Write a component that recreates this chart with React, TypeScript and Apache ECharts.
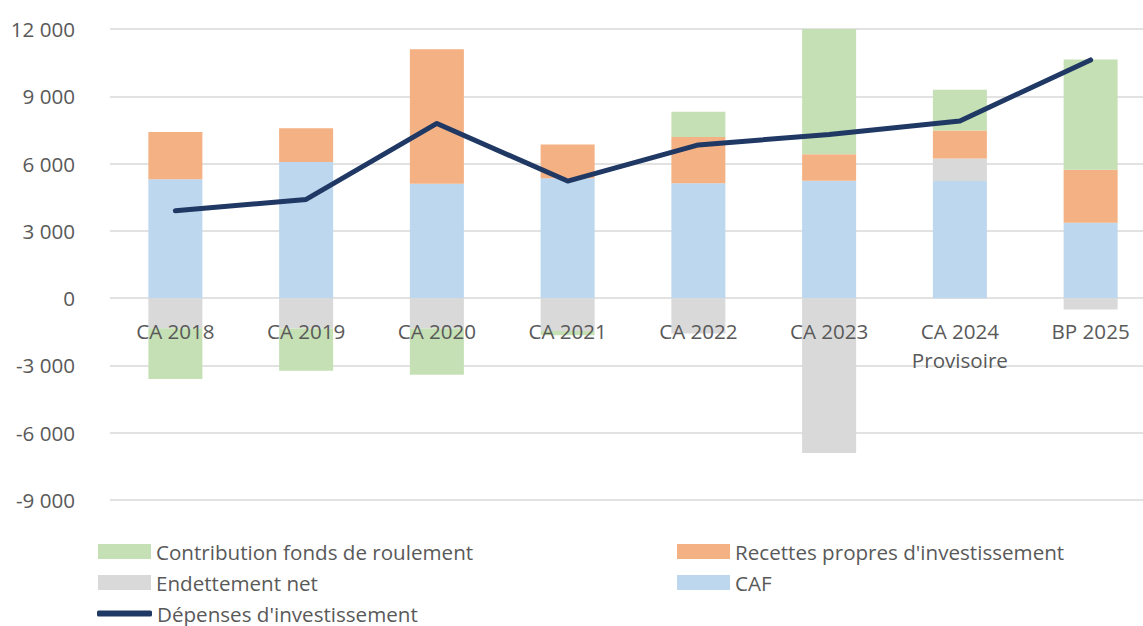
import React, { useEffect, useRef } from "react";
import * as echarts from "echarts";

const categories = ["CA 2018", "CA 2019", "CA 2020", "CA 2021", "CA 2022", "CA 2023", "CA 2024\nProvisoire", "BP 2025"];
const caf = [5300, 6070, 5100, 5340, 5120, 5230, 5220, 3360];
const endettementNet = [-1340, -1350, -1350, -1470, -1580, -6900, 1010, -510];
const recettesPropres = [2110, 1510, 6000, 1515, 2065, 1190, 1240, 2360];
const contributionFdr = [-2260, -1890, -2070, -180, 1130, 7780, 1820, 4920];
const depenses = [3900, 4400, 7790, 5220, 6830, 7300, 7900, 10620];

const yTicks = { min: -9000, max: 12000, interval: 3000 };

const FONT = "Open Sans";
const TXT = "#595959";
const FS = 20.6;

const fmt = (v: number) => {
  const s = Math.abs(v).toString().replace(/\B(?=(\d{3})+(?!\d))/g, " ");
  return (v < 0 ? "-" : "") + s;
};

export default function App() {
  const ref = useRef<HTMLDivElement>(null);
  useEffect(() => {
    if (!ref.current) return;
    const chart = echarts.init(ref.current, undefined, { renderer: "svg" });
    const barLegend = (name: string, left: number, top: number) => ({
      data: [name],
      left,
      top,
      padding: 0,
      icon: "rect",
      itemWidth: 53,
      itemHeight: 15,
      textStyle: { fontFamily: FONT, fontSize: FS, color: TXT },
    });
    chart.setOption({
      animation: false,
      textStyle: { fontFamily: FONT },
      grid: [
        { left: 110, top: 29, width: 1046, height: 471, containLabel: false },
        { left: 110, top: 29, width: 1046, height: 269, containLabel: false },
      ],
      legend: [
        barLegend("Contribution fonds de roulement", 98, 541),
        barLegend("Recettes propres d'investissement", 677, 541),
        barLegend("Endettement net", 98, 572),
        barLegend("CAF", 677, 572),
        {
          data: ["Dépenses d'investissement"],
          left: 97,
          top: 603,
          padding: 0,
          icon: "roundRect",
          itemWidth: 55,
          itemHeight: 6,
          textStyle: { fontFamily: FONT, fontSize: FS, color: TXT },
        },
      ],
      xAxis: [
        {
          type: "category",
          gridIndex: 0,
          data: categories,
          axisLine: { show: false },
          axisTick: { show: false },
          axisLabel: { show: false },
        },
        {
          type: "category",
          gridIndex: 1,
          data: categories,
          z: 10,
          axisLine: { show: false },
          axisTick: { show: false },
          axisLabel: {
            fontFamily: FONT,
            fontSize: FS,
            color: TXT,
            lineHeight: 29,
            margin: 18,
            interval: 0,
          },
        },
      ],
      yAxis: [
        {
          type: "value",
          gridIndex: 0,
          min: yTicks.min,
          max: yTicks.max,
          interval: yTicks.interval,
          axisLine: { show: false },
          axisTick: { show: false },
          splitLine: { lineStyle: { color: "#d9d9d9", width: 1.5 } },
          axisLabel: {
            fontFamily: FONT,
            fontSize: FS,
            color: TXT,
            margin: 35,
            formatter: fmt,
          },
        },
        {
          type: "value",
          gridIndex: 1,
          min: 0,
          max: yTicks.max,
          show: false,
          splitLine: { show: false },
        },
      ],
      series: [
        { name: "CAF", type: "bar", stack: "s", data: caf, barWidth: 54, clip: true, itemStyle: { color: "#BDD7EE" } },
        { name: "Endettement net", type: "bar", stack: "s", data: endettementNet, barWidth: 54, clip: true, itemStyle: { color: "#D9D9D9" } },
        { name: "Recettes propres d'investissement", type: "bar", stack: "s", data: recettesPropres, barWidth: 54, clip: true, itemStyle: { color: "#F4B183" } },
        { name: "Contribution fonds de roulement", type: "bar", stack: "s", data: contributionFdr, barWidth: 54, clip: true, itemStyle: { color: "#C5E0B4" } },
        {
          name: "Dépenses d'investissement",
          type: "line",
          data: depenses,
          symbol: "none",
          color: "#1F3864",
          z: 5,
          lineStyle: { color: "#1F3864", width: 5, cap: "round", join: "round" },
        },
      ],
    });
    return () => chart.dispose();
  }, []);
  return (
    <div style={{ position: "fixed", left: 0, top: 0, width: 1143, height: 626, overflow: "hidden", background: "#fff" }}>
      <div ref={ref} style={{ width: 1160, height: 626 }} />
    </div>
  );
}
